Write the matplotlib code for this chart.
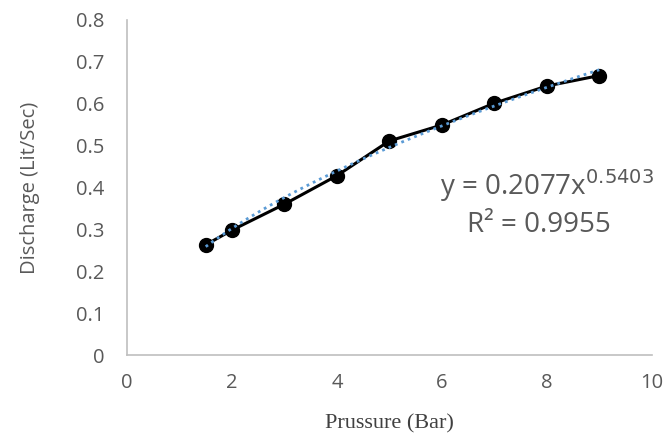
import matplotlib
matplotlib.use("Agg")
import matplotlib.pyplot as plt
import numpy as np

pressure = [1.5, 2, 3, 4, 5, 6, 7, 8, 9]
discharge = [0.263, 0.298, 0.360, 0.428, 0.511, 0.549, 0.601, 0.642, 0.667]
coef_a = 0.2077
coef_b = 0.5403
r2 = 0.9955
x_ticks = [0, 2, 4, 6, 8, 10]
y_ticks = [0, 0.1, 0.2, 0.3, 0.4, 0.5, 0.6, 0.7, 0.8]

fig = plt.figure(figsize=(6.65, 4.41), dpi=100)
ax = fig.add_axes([0.191, 0.195, 0.789, 0.76])

ax.plot(pressure, discharge, color='black', lw=2.2, marker='o', ms=10,
        markerfacecolor='black', markeredgecolor='black', zorder=2)
xt = np.linspace(min(pressure), max(pressure), 100)
ax.plot(xt, coef_a * xt ** coef_b, color='#5B9BD5', lw=2, ls=(0, (1, 1.5)), zorder=3)

ax.set_xlim(0, 10)
ax.set_ylim(0, 0.8)
ax.set_xticks(x_ticks)
ax.set_yticks(y_ticks)
ax.set_xticklabels([str(v) for v in x_ticks])
ax.set_yticklabels(['0' if v == 0 else f'{v:.1f}' for v in y_ticks])

for s in ['top', 'right']:
    ax.spines[s].set_visible(False)
for s in ['left', 'bottom']:
    ax.spines[s].set_color('#BFBFBF')
    ax.spines[s].set_linewidth(1.2)
ax.tick_params(length=0, labelsize=14.5, colors='#595959')
ax.tick_params(axis='y', pad=16)
ax.tick_params(axis='x', pad=13)
for lab in ax.get_xticklabels() + ax.get_yticklabels():
    lab.set_fontfamily('Open Sans')

ax.set_ylabel('Discharge (Lit/Sec)', fontsize=14.5, color='#595959',
              fontfamily='Open Sans', labelpad=26)
ax.set_xlabel('Prussure (Bar)', fontsize=16, color='#404040',
              fontfamily='Liberation Serif', labelpad=15)

ax.text(8.0, 0.405, r'y = 0.2077x$^{0.5403}$', fontsize=20, color='#595959',
        fontfamily='Open Sans', ha='center', va='center')
ax.text(7.85, 0.31, 'R² = 0.9955', fontsize=20, color='#595959',
        fontfamily='Open Sans', ha='center', va='center')

fig.savefig('out.png', dpi=100)
